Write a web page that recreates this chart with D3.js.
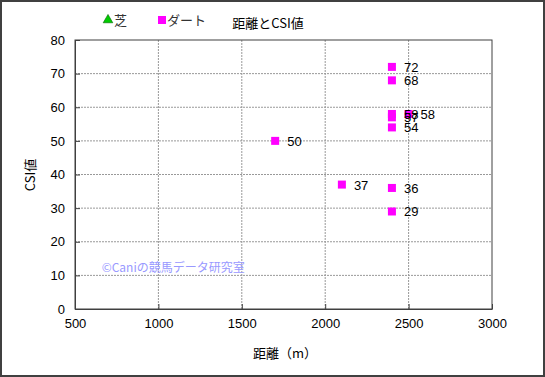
<!DOCTYPE html>
<html>
<head>
<meta charset="utf-8">
<script src="https://cdn.jsdelivr.net/npm/d3@7"></script>
<style>
  body { margin: 0; background: #fff; }
  text { font-family: "Noto Sans CJK JP", "Liberation Sans", sans-serif; }
</style>
</head>
<body>
<div id="chart"></div>
<script>
// data
const turfDist = [];
const turfCsi = [];
const dirtDist = [1700, 2100, 2400, 2400, 2400, 2400, 2400, 2400, 2400, 2500];
const dirtCsi  = [50, 37, 72, 68, 58, 57, 54, 36, 29, 58];
const xTicks = [500, 1000, 1500, 2000, 2500, 3000];
const yTicks = [0, 10, 20, 30, 40, 50, 60, 70, 80];

const W = 545, H = 377;
const margin = { top: 40, right: 53, bottom: 68, left: 75 },
    width = W - margin.left - margin.right,
    height = H - margin.top - margin.bottom;

const root = d3.select("#chart")
  .append("svg")
    .attr("width", W)
    .attr("height", H);

// outer frame
root.append("rect")
  .attr("x", 1).attr("y", 1)
  .attr("width", W - 2).attr("height", H - 2)
  .attr("fill", "#fff")
  .attr("stroke", "#404040")
  .attr("stroke-width", 2);

const svg = root.append("g")
  .attr("transform", `translate(${margin.left}, ${margin.top})`);

const x = d3.scaleLinear().domain([500, 3000]).range([0, width]);
const y = d3.scaleLinear().domain([0, 80]).range([height, 0]);

// grid lines
svg.append("g")
  .selectAll("line")
  .data(xTicks.slice(1, -1))
  .join("line")
    .attr("x1", d => x(d)).attr("x2", d => x(d))
    .attr("y1", 0).attr("y2", height)
    .attr("stroke", "#999").attr("stroke-dasharray", "2,1");
svg.append("g")
  .selectAll("line")
  .data(yTicks.slice(1, -1))
  .join("line")
    .attr("x1", 0).attr("x2", width)
    .attr("y1", d => y(d)).attr("y2", d => y(d))
    .attr("stroke", "#999").attr("stroke-dasharray", "2,1");

// plot border
svg.append("rect")
  .attr("width", width).attr("height", height)
  .attr("fill", "none").attr("stroke", "#404040");

// axes (ticks point inward)
const xAxis = svg.append("g")
  .attr("transform", `translate(0, ${height})`)
  .call(d3.axisBottom(x).tickValues(xTicks).tickFormat(d3.format("d"))
    .tickSizeInner(-5).tickSizeOuter(0).tickPadding(10));
const yAxis = svg.append("g")
  .call(d3.axisLeft(y).tickValues(yTicks).tickFormat(d3.format("d"))
    .tickSizeInner(-5).tickSizeOuter(0).tickPadding(10));
[xAxis, yAxis].forEach(a => {
  a.select(".domain").attr("stroke", "#404040");
  a.selectAll(".tick line").attr("stroke", "#404040");
  a.selectAll(".tick text").attr("font-size", 13).attr("fill", "#000")
    .style("font-family", '"Liberation Sans", sans-serif');
});

// watermark
svg.append("text")
  .attr("x", x(660)).attr("y", y(11.1))
  .attr("font-size", 12)
  .attr("fill", "#9999ff")
  .text("©Caniの競馬データ研究室");

// points
const dirt = dirtDist.map((d, i) => ({ dist: d, csi: dirtCsi[i] }));
const turf = turfDist.map((d, i) => ({ dist: d, csi: turfCsi[i] }));

svg.selectAll(".turf")
  .data(turf)
  .join("path")
    .attr("class", "turf")
    .attr("transform", d => `translate(${x(d.dist)}, ${y(d.csi)})`)
    .attr("d", d3.symbol(d3.symbolTriangle, 50))
    .attr("fill", "#00cc00").attr("stroke", "#006600");

svg.selectAll(".dirt")
  .data(dirt)
  .join("rect")
    .attr("class", "dirt")
    .attr("x", d => x(d.dist) - 4)
    .attr("y", d => y(d.csi) - 4)
    .attr("width", 8).attr("height", 8)
    .attr("fill", "#ff00ff");

svg.selectAll(".lbl")
  .data(dirt)
  .join("text")
    .attr("class", "lbl")
    .attr("x", d => x(d.dist) + 12)
    .attr("y", d => y(d.csi) + 5)
    .attr("font-size", 13)
    .style("font-family", '"Liberation Sans", sans-serif')
    .text(d => d.csi);

// title, axis titles
root.append("text")
  .attr("x", 268).attr("y", 28)
  .attr("text-anchor", "middle")
  .attr("font-size", 13)
  .text("距離とCSI値");
root.append("text")
  .attr("x", 285).attr("y", 358)
  .attr("text-anchor", "middle")
  .attr("font-size", 13)
  .text("距離（m）");
root.append("text")
  .attr("transform", "translate(35, 175) rotate(-90)")
  .attr("text-anchor", "middle")
  .attr("font-size", 13)
  .text("CSI値");

// legend
const legend = root.append("g").attr("transform", "translate(103, 20)");
legend.append("path")
  .attr("transform", "translate(5, 0)")
  .attr("d", d3.symbol(d3.symbolTriangle, 40))
  .attr("fill", "#00cc00").attr("stroke", "#006600").attr("stroke-width", 0.6);
legend.append("text").attr("x", 11).attr("y", 5).attr("font-size", 13).attr("fill", "#333").text("芝");
legend.append("rect").attr("x", 55).attr("y", -4).attr("width", 8).attr("height", 8).attr("fill", "#ff00ff");
legend.append("text").attr("x", 64).attr("y", 5).attr("font-size", 13).attr("fill", "#333").text("ダート");
</script>
</body>
</html>
